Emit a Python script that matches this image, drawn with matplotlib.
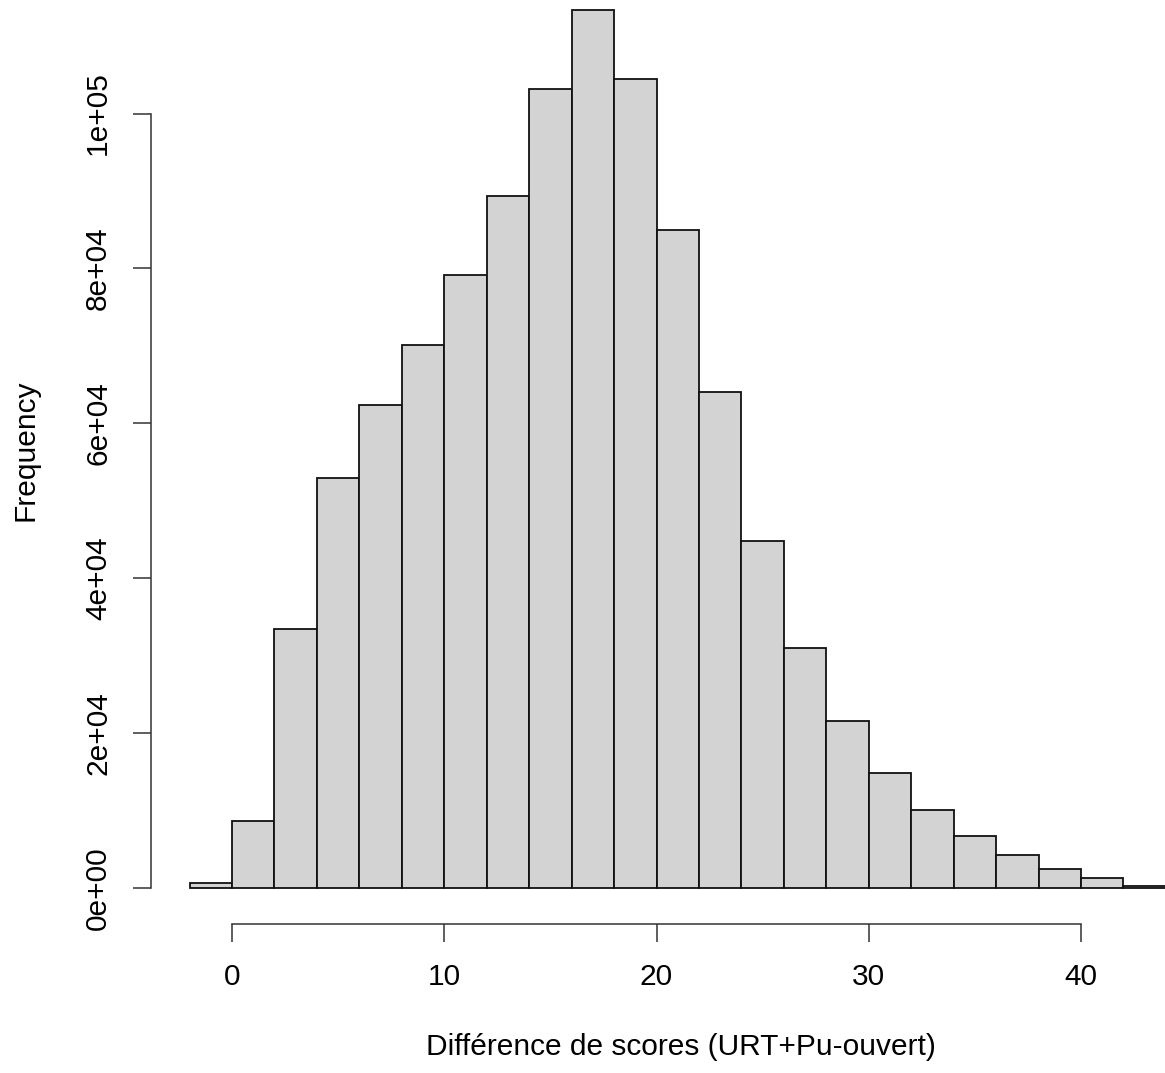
import matplotlib.pyplot as plt

bin_left = [-2, 0, 2, 4, 6, 8, 10, 12, 14, 16, 18, 20, 22, 24, 26, 28, 30, 32, 34, 36, 38, 40, 42]
bin_width = 2
counts = [650, 8700, 33400, 53000, 62400, 70100, 79200, 89300, 103200, 113300, 104400,
          85000, 64000, 44800, 31000, 21600, 14900, 10100, 6700, 4300, 2500, 1300, 260]
x_ticks = [0, 10, 20, 30, 40]
y_ticks = [0, 20000, 40000, 60000, 80000, 100000]
y_tick_labels = ['0e+00', '2e+04', '4e+04', '6e+04', '8e+04', '1e+05']

plt.rcParams['font.family'] = ['Liberation Sans', 'DejaVu Sans']

W, H = 1165, 1073
fig = plt.figure(figsize=(W / 100, H / 100), dpi=100)

# axes box in pixels: left spine at x=151, bottom spine at y=924
ax = fig.add_axes([151 / W, (H - 924) / H, (W - 151) / W, 924 / H])
px_per_unit = (1081 - 232) / 40
px_per_count = (888 - 113.5) / 100000
ax.set_xlim((151 - 232) / px_per_unit, (W - 232) / px_per_unit)
ax.set_ylim(-(924 - 888) / px_per_count, 888 / px_per_count)

ax.bar(bin_left, counts, width=bin_width, align='edge',
       color='#D3D3D3', edgecolor='#111111', linewidth=1.3)

for s in ['top', 'right']:
    ax.spines[s].set_visible(False)
ax.spines['left'].set_bounds(0, 100000)
ax.spines['bottom'].set_bounds(0, 40)
for s in ['left', 'bottom']:
    ax.spines[s].set_color('#333333')
    ax.spines[s].set_linewidth(1.1)

ax.set_xticks(x_ticks)
ax.set_xticklabels([str(t) for t in x_ticks])
ax.set_yticks(y_ticks)
ax.set_yticklabels(y_tick_labels, rotation=90, va='center')
ax.tick_params(axis='both', length=13, width=1.1, color='#333333', labelsize=21.5)
ax.tick_params(axis='y', pad=15)
ax.tick_params(axis='x', pad=15)

fig.text(25 / W, 1 - 450 / H, 'Frequency', rotation=90, ha='center', va='center', fontsize=21.5)
fig.text(681 / W, 1 - 1047 / H, 'Différence de scores (URT+Pu-ouvert)',
         ha='center', va='center', fontsize=21.5)

fig.savefig('out.png', dpi=100, facecolor='white')
